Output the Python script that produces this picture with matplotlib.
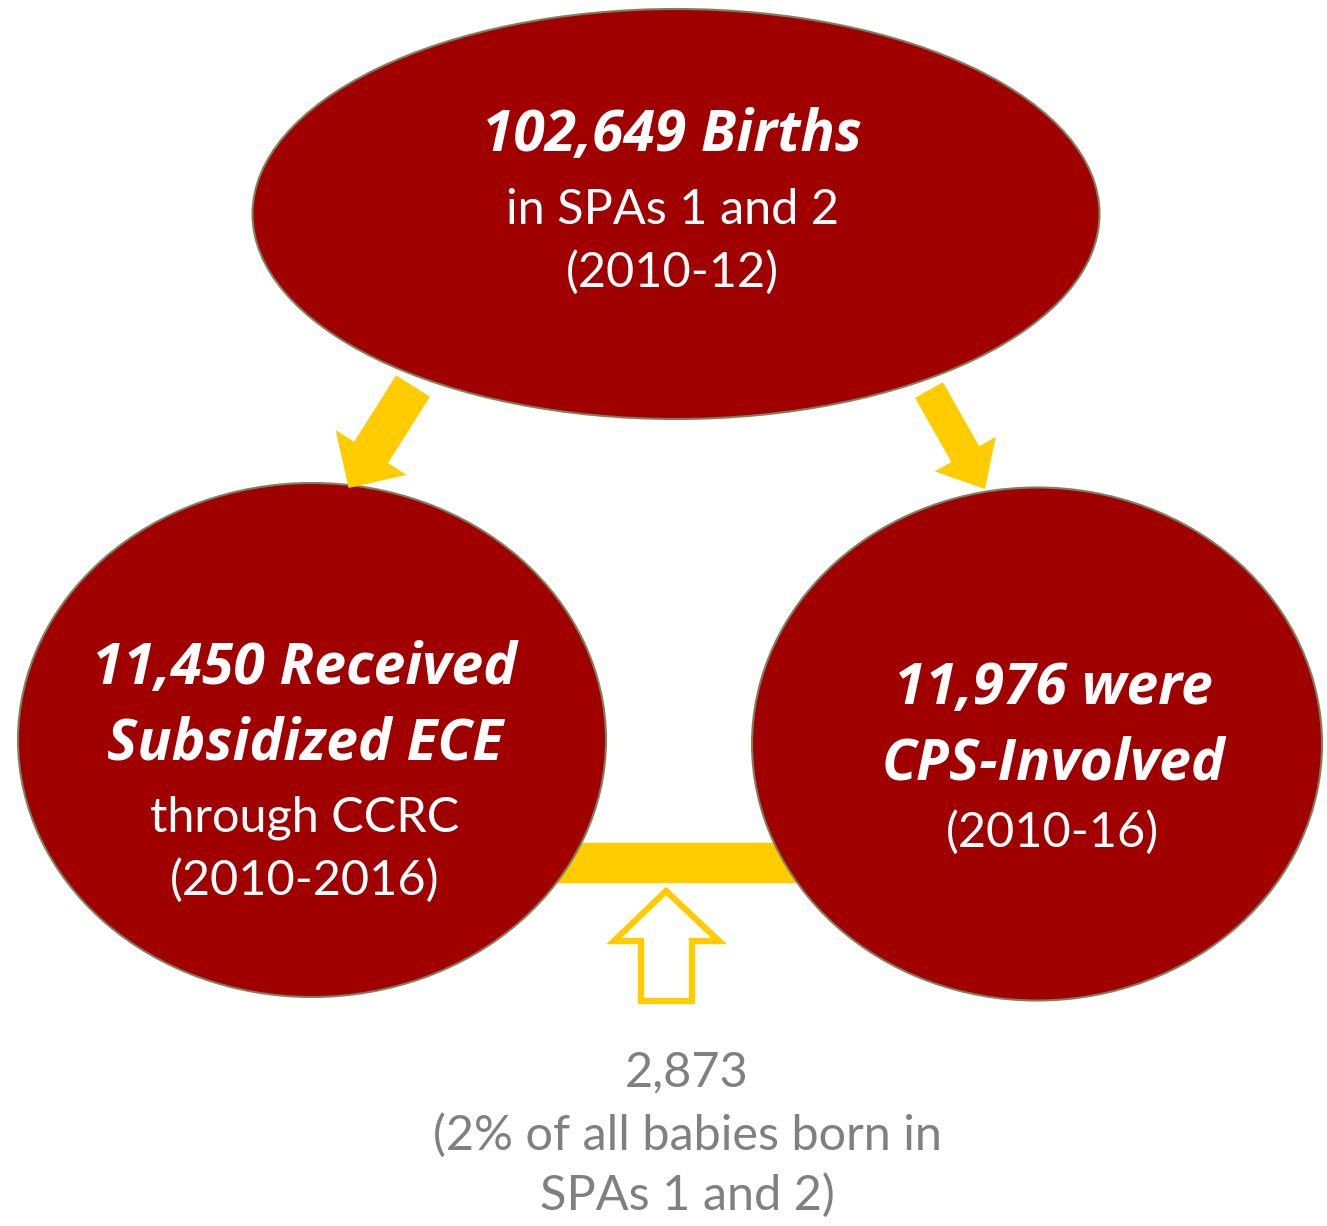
import matplotlib
matplotlib.use('Agg')
import matplotlib.pyplot as plt
from matplotlib.patches import Ellipse, FancyArrow, Rectangle, Polygon

# Node data: (title lines bold italic, normal lines)
top_bold = ["102,649 Births"]
top_plain = ["in SPAs 1 and 2", "(2010-12)"]
left_bold = ["11,450 Received", "Subsidized ECE"]
left_plain = ["through CCRC", "(2010-2016)"]
right_bold = ["11,976 were", "CPS-Involved"]
right_plain = ["(2010-16)"]
overlap_lines = ["2,873", "(2% of all babies born in", "SPAs 1 and 2)"]

RED = "#A00000"
EDGE = "#7F7F5F"
GOLD = "#FFCC00"
GREY = "#808080"

W, H = 1327, 1226
fig = plt.figure(figsize=(W / 100, H / 100), dpi=100)
ax = fig.add_axes([0, 0, 1, 1])
ax.set_xlim(0, W)
ax.set_ylim(H, 0)
ax.axis("off")

# connecting bar behind the circles
ax.add_patch(Rectangle((550, 843), 260, 39, color=GOLD, zorder=1))

# ellipses
for cx, cy, w, h in [(676, 214, 847, 410), (312, 740, 588, 514), (1037, 744, 570, 513)]:
    ax.add_patch(Ellipse((cx, cy), w, h, facecolor=RED, edgecolor=EDGE, lw=1.5, zorder=2))

# down arrows
ax.add_patch(FancyArrow(413, 386, -65 * 0.99, 103 * 0.99, width=40, head_width=84,
                        head_length=42, length_includes_head=True, color=GOLD, lw=0, zorder=3))
ax.add_patch(FancyArrow(929, 390, 56, 99, width=32, head_width=70,
                        head_length=40, length_includes_head=True, color=GOLD, lw=0, zorder=3))

# outlined up arrow
ax.add_patch(Polygon([(641, 1001), (692, 1001), (692, 941), (719, 941), (666, 891),
                      (614, 941), (641, 941)], closed=True, facecolor="white",
                     edgecolor=GOLD, lw=4.5, joinstyle="miter", zorder=3))

fam = ["Lato", "DejaVu Sans"]
bold_fam = ["Open Sans", "DejaVu Sans"]


def block(x, lines_styles):
    for text, y, style in lines_styles:
        if style == "b":
            ax.text(x, y, text, ha="center", va="center", color="white", fontsize=41,
                    fontweight="bold", fontstyle="italic", family=bold_fam, zorder=4)
        else:
            ax.text(x, y, text, ha="center", va="center", color="white", fontsize=35,
                    family=fam, zorder=4)


block(672, [(top_bold[0], 136, "b"), (top_plain[0], 210, "p"), (top_plain[1], 272, "p")])
block(305, [(left_bold[0], 669, "b"), (left_bold[1], 744, "b"),
            (left_plain[0], 818, "p"), (left_plain[1], 880, "p")])
block(1053, [(right_bold[0], 689, "b"), (right_bold[1], 764, "b"), (right_plain[0], 832, "p")])

for text, y in zip(overlap_lines, [1072, 1135, 1195]):
    ax.text(687, y, text, ha="center", va="center", color=GREY, fontsize=35, family=fam)

fig.savefig("out.png", dpi=100, facecolor="white")
